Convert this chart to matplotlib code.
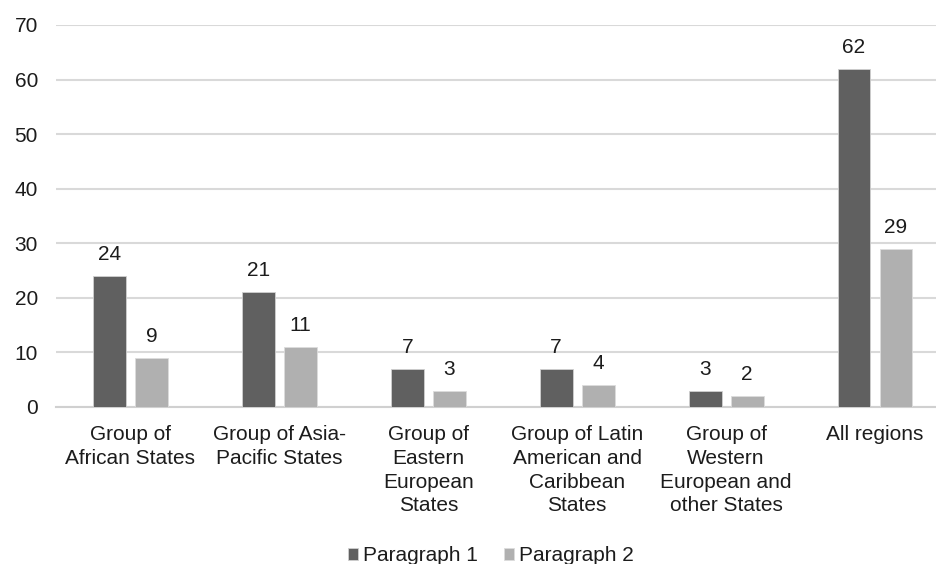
import numpy as np
import matplotlib
matplotlib.use("Agg")
import matplotlib.pyplot as plt

# Regional groups and counts for each paragraph
regions = [
    "Group of\nAfrican States",
    "Group of Asia-\nPacific States",
    "Group of\nEastern\nEuropean\nStates",
    "Group of Latin\nAmerican and\nCaribbean\nStates",
    "Group of\nWestern\nEuropean and\nother States",
    "All regions",
]
paragraph_1 = [24, 21, 7, 7, 3, 62]
paragraph_2 = [9, 11, 3, 4, 2, 29]
series_names = ["Paragraph 1", "Paragraph 2"]
y_ticks = [0, 10, 20, 30, 40, 50, 60, 70]

plt.rcParams["font.family"] = ["Liberation Sans", "DejaVu Sans"]
text_color = "#1c1c1c"
fs = 15

fig = plt.figure(figsize=(9.36, 5.64), dpi=100)
ax = fig.add_axes([0.0598, 0.2784, 0.9546, 0.6773])

x = np.arange(len(regions))
width = 0.221
offset = 0.141

bars1 = ax.bar(x - offset, paragraph_1, width, color="#606060",
               edgecolor="#d0d0d0", linewidth=0.6, label=series_names[0], zorder=3)
bars2 = ax.bar(x + offset, paragraph_2, width, color="#b0b0b0",
               edgecolor="#dcdcdc", linewidth=0.6, label=series_names[1], zorder=3)

for bars, vals in ((bars1, paragraph_1), (bars2, paragraph_2)):
    for b, v in zip(bars, vals):
        ax.annotate(str(v), xy=(b.get_x() + b.get_width() / 2, v),
                    xytext=(0, 11.5), textcoords="offset points",
                    ha="center", va="baseline", fontsize=fs, color=text_color)

ax.set_xlim(-0.5, len(regions) - 0.5)
ax.set_ylim(0, 70)
ax.set_yticks(y_ticks)
ax.set_xticks(x)
ax.set_xticklabels(regions, fontsize=fs, color=text_color, linespacing=1.32)
ax.tick_params(axis="y", length=0, pad=13, labelsize=fs, labelcolor=text_color)
ax.tick_params(axis="x", length=0, pad=13)

ax.yaxis.grid(True, color="#d9d9d9", linewidth=1.5, zorder=0)
ax.set_axisbelow(True)
for side in ("left", "right", "top"):
    ax.spines[side].set_visible(False)
ax.spines["bottom"].set_color("#d0d0d0")
ax.spines["bottom"].set_linewidth(1.5)

fig.legend(loc="lower center", bbox_to_anchor=(0.5246, -0.021), ncol=2, frameon=False,
           fontsize=fs, borderpad=0, handlelength=0.48, handleheight=0.48,
           handletextpad=0.25, columnspacing=1.25, labelcolor=text_color)

fig.savefig("out.png", dpi=100)
